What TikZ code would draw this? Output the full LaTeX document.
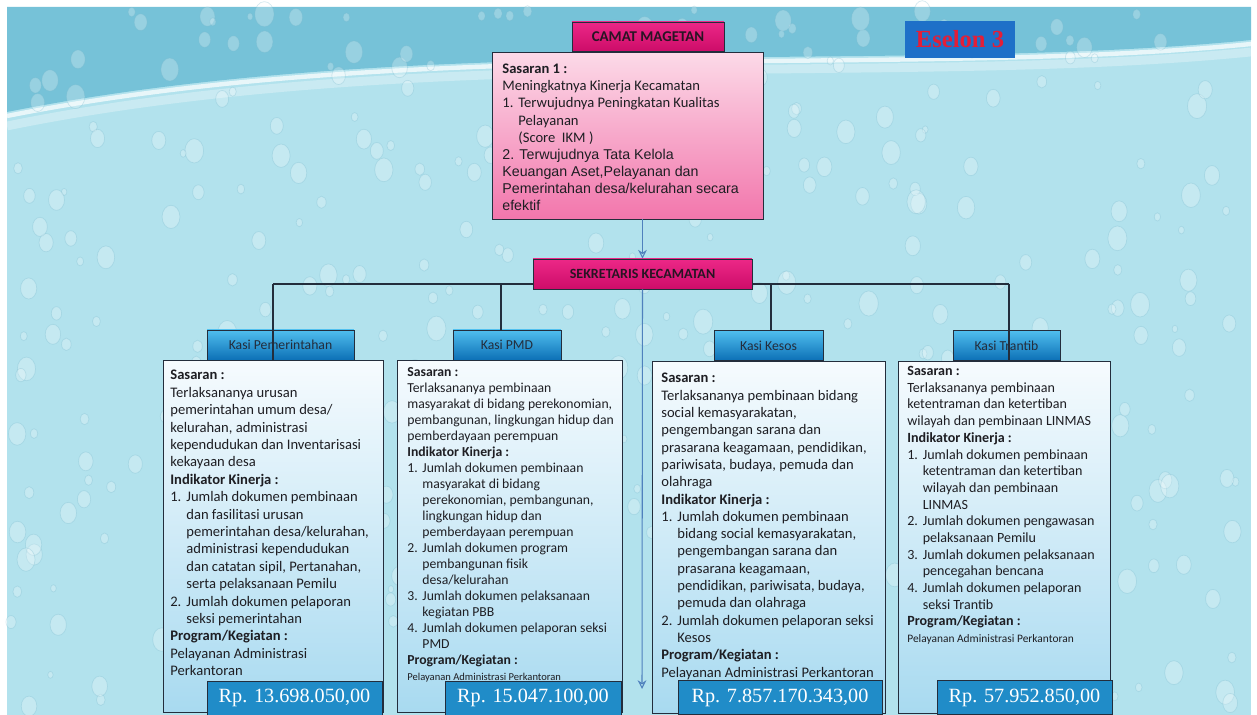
\documentclass[tikz,border=0pt]{standalone}
\usepackage{fontspec}
\setmainfont{Carlito}
\newfontfamily\arialfont{Liberation Sans}
\newfontfamily\serifrp{Liberation Serif}
\usetikzlibrary{arrows.meta}
\definecolor{latar}{RGB}{178,226,237}
\definecolor{latargelap}{RGB}{118,194,216}
\definecolor{tetes}{RGB}{120,185,205}
\definecolor{magatas}{RGB}{236,40,135}
\definecolor{magbawah}{RGB}{205,12,105}
\definecolor{pinkatas}{RGB}{252,218,232}
\definecolor{pinkbawah}{RGB}{242,118,172}
\definecolor{biruatas}{RGB}{80,190,238}
\definecolor{birubawah}{RGB}{12,112,182}
\definecolor{isiatas}{RGB}{246,251,254}
\definecolor{isibawah}{RGB}{168,218,240}
\definecolor{rpbiru}{RGB}{32,140,200}
\definecolor{eselonbiru}{RGB}{30,112,200}
\definecolor{eselonmerah}{RGB}{228,30,55}
\definecolor{garis}{RGB}{35,45,60}
\definecolor{panahbiru}{RGB}{79,129,189}
\definecolor{teksgelap}{RGB}{40,20,35}
\definecolor{teksisi}{RGB}{30,30,35}
\newcommand{\nomor}[1]{\makebox[1.1em][l]{#1}}
\newcommand{\lanjut}{\hspace*{1.1em}}
\begin{document}
\begin{tikzpicture}[x=0.02cm, y=-0.02cm]
\tikzstyle{jabatan}  = [rectangle, text centered, draw=garis, top color=magatas, bottom color=magbawah, text=teksgelap, font=\bfseries\fontsize{8}{9}\selectfont]
\tikzstyle{sasaranbox} = [rectangle, draw=garis, top color=pinkatas, bottom color=pinkbawah]
\tikzstyle{kasi}     = [rectangle, text centered, draw=garis, top color=biruatas, bottom color=birubawah, text=garis, font=\fontsize{7.8}{9}\selectfont, minimum height=0.6cm]
\tikzstyle{isi}      = [rectangle, draw=garis, top color=isiatas, bottom color=isibawah, minimum height=7.04cm]
\tikzstyle{anggaran} = [rectangle, text centered, draw=garis, fill=rpbiru, text=white, font=\serifrp\fontsize{11.5}{13}\selectfont, minimum height=0.68cm]
\tikzstyle{isian}    = [anchor=north west, align=left, inner sep=0pt, text=teksisi]
\tikzstyle{penghubung} = [draw=garis, line width=0.6pt]
\tikzstyle{panah}    = [draw=panahbiru, line width=0.6pt, -{Stealth[length=5pt,width=5pt,open]}]
% latar
\useasboundingbox (0,0) rectangle (1257,715);
\fill[white] (0,0) rectangle (1257,715);
\fill[latar] (7,7) rectangle (1251,715);
\fill[latargelap] (7,7) -- (1251,7) -- (1251,40) .. controls (900,75) and (420,30) .. (7,112) -- cycle;
\draw[white, line width=2.5pt, opacity=0.7] (1251,44) .. controls (900,79) and (420,34) .. (7,116);
\draw[white, line width=5pt, opacity=0.3] (1251,52) .. controls (900,87) and (420,42) .. (7,126);
\pgfmathsetseed{11}
\foreach \i in {1,...,420}{
  \pgfmathsetmacro{\dx}{10+rnd*1235}
  \pgfmathsetmacro{\dy}{10+rnd*700}
  \pgfmathsetmacro{\dr}{1.5+rnd*4}
  \fill[white, opacity=0.25] (\dx,\dy) ellipse [x radius=\dr pt, y radius=1.3*\dr pt];
  \draw[tetes, opacity=0.3, line width=0.4pt] (\dx,\dy) ellipse [x radius=\dr pt, y radius=1.3*\dr pt];
}
% garis bus
\coordinate (bus_0) at (273, 284);
\coordinate (bus_1) at (501, 284);
\coordinate (bus_2) at (771, 284);
\coordinate (bus_3) at (1009, 284);
\draw[penghubung] (bus_0) -- (bus_3);
% kotak atas
\node[jabatan, minimum width=3.04cm, minimum height=0.58cm, font=\bfseries\fontsize{8.5}{9}\selectfont] at (648, 36.5) (0_camat) {CAMAT MAGETAN};
\node[sasaranbox, minimum width=5.42cm, minimum height=3.34cm] at (627.5, 135.5) (1_sasaran) {};
\node[isian, font=\fontsize{8.3}{9.7}\selectfont] at (502, 64) (1_teks) {\textbf{Sasaran 1 :}\\
Meningkatnya Kinerja Kecamatan\\
\nomor{1.}Terwujudnya Peningkatan Kualitas\\
\lanjut Pelayanan\\
\lanjut (Score \ IKM )\\
{\arialfont\fontsize{8.1}{9.7}\selectfont 2. Terwujudnya Tata Kelola}\\
{\arialfont\fontsize{8.1}{9.7}\selectfont Keuangan Aset,Pelayanan dan}\\
{\arialfont\fontsize{8.1}{9.7}\selectfont Pemerintahan desa/kelurahan secara}\\
{\arialfont\fontsize{8.1}{9.7}\selectfont efektif}};
\node[rectangle, fill=eselonbiru, minimum width=2.2cm, minimum height=0.74cm, text=eselonmerah, font=\serifrp\bfseries\fontsize{14}{16}\selectfont] at (960, 39.5) (0_eselon) {Eselon 3};
\node[jabatan, minimum width=4.38cm, minimum height=0.6cm] at (642.5, 274) (1_sek) {SEKRETARIS KECAMATAN};
\draw[panah] (1_sek.north |- 1_sasaran.south) -- (1_sek.north);
\coordinate (ujung) at (642, 689);
\draw[panah] (1_sek.south) -- (ujung);
% kasi
\node[kasi, minimum width=2.94cm] at (280.5, 345) (2_kasi_0) {Kasi Pemerintahan};
\node[kasi, minimum width=2.16cm] at (507, 345) (2_kasi_1) {Kasi PMD};
\node[kasi, minimum width=2.18cm] at (768.5, 345.5) (2_kasi_2) {Kasi Kesos};
\node[kasi, minimum width=2.14cm] at (1006.5, 345.5) (2_kasi_3) {Kasi Trantib};
% isi
\node[isi, minimum width=4.40cm] at (273, 536) (3_isi_0) {};
\node[isi, minimum width=4.50cm] at (509.5, 536.5) (3_isi_1) {};
\node[isi, minimum width=4.66cm] at (768.5, 537) (3_isi_2) {};
\node[isi, minimum width=4.24cm] at (1004, 537) (3_isi_3) {};
\draw[penghubung] (bus_0) -- (bus_0 |- 3_isi_0.north);
\draw[penghubung] (bus_1) -- (bus_1 |- 2_kasi_1.north);
\draw[penghubung] (bus_2) -- (bus_2 |- 2_kasi_2.north);
\draw[penghubung] (bus_3) -- (bus_3 |- 3_isi_3.north);
\node[isian, font=\fontsize{8.3}{9.9}\selectfont] at (170, 370) (3_teks_0) {\textbf{Sasaran :}\\
Terlaksananya urusan\\
pemerintahan umum desa/\\
kelurahan, administrasi\\
kependudukan dan Inventarisasi\\
kekayaan desa\\
\textbf{Indikator Kinerja :}\\
\nomor{1.}Jumlah dokumen pembinaan\\
\lanjut dan fasilitasi urusan\\
\lanjut pemerintahan desa/kelurahan,\\
\lanjut administrasi kependudukan\\
\lanjut dan catatan sipil, Pertanahan,\\
\lanjut serta pelaksanaan Pemilu\\
\nomor{2.}Jumlah dokumen pelaporan\\
\lanjut seksi pemerintahan\\
\textbf{Program/Kegiatan :}\\
Pelayanan Administrasi\\
Perkantoran};
\node[isian, font=\fontsize{7.8}{9.1}\selectfont] at (407, 367) (3_teks_1) {\textbf{Sasaran :}\\
Terlaksananya pembinaan\\
masyarakat di bidang perekonomian,\\
pembangunan, lingkungan hidup dan\\
pemberdayaan perempuan\\
\textbf{Indikator Kinerja :}\\
\nomor{1.}Jumlah dokumen pembinaan\\
\lanjut masyarakat di bidang\\
\lanjut perekonomian, pembangunan,\\
\lanjut lingkungan hidup dan\\
\lanjut pemberdayaan perempuan\\
\nomor{2.}Jumlah dokumen program\\
\lanjut pembangunan fisik\\
\lanjut desa/kelurahan\\
\nomor{3.}Jumlah dokumen pelaksanaan\\
\lanjut kegiatan PBB\\
\nomor{4.}Jumlah dokumen pelaporan seksi\\
\lanjut PMD\\
\textbf{Program/Kegiatan :}\\
{\fontsize{6}{7.6}\selectfont Pelayanan Administrasi Perkantoran}};
\node[isian, font=\fontsize{8.3}{9.85}\selectfont] at (661, 373) (3_teks_2) {\textbf{Sasaran :}\\
Terlaksananya pembinaan bidang\\
social kemasyarakatan,\\
pengembangan sarana dan\\
prasarana keagamaan, pendidikan,\\
pariwisata, budaya, pemuda dan\\
olahraga\\
\textbf{Indikator Kinerja :}\\
\nomor{1.}Jumlah dokumen pembinaan\\
\lanjut bidang social kemasyarakatan,\\
\lanjut pengembangan sarana dan\\
\lanjut prasarana keagamaan,\\
\lanjut pendidikan, pariwisata, budaya,\\
\lanjut pemuda dan olahraga\\
\nomor{2.}Jumlah dokumen pelaporan seksi\\
\lanjut Kesos\\
\textbf{Program/Kegiatan :}\\
Pelayanan Administrasi Perkantoran};
\node[isian, font=\fontsize{8}{9.5}\selectfont] at (907, 366) (3_teks_3) {\textbf{Sasaran :}\\
Terlaksananya pembinaan\\
ketentraman dan ketertiban\\
wilayah dan pembinaan LINMAS\\
\textbf{Indikator Kinerja :}\\
\nomor{1.}Jumlah dokumen pembinaan\\
\lanjut ketentraman dan ketertiban\\
\lanjut wilayah dan pembinaan\\
\lanjut LINMAS\\
\nomor{2.}Jumlah dokumen pengawasan\\
\lanjut pelaksanaan Pemilu\\
\nomor{3.}Jumlah dokumen pelaksanaan\\
\lanjut pencegahan bencana\\
\nomor{4.}Jumlah dokumen pelaporan\\
\lanjut seksi Trantib\\
\textbf{Program/Kegiatan :}\\
{\fontsize{6.5}{8}\selectfont Pelayanan Administrasi Perkantoran}};
% anggaran
\node[anggaran, minimum width=3.50cm] at (294.5, 698) (3_rp_0) {Rp. 13.698.050,00};
\node[anggaran, minimum width=3.52cm] at (533, 698) (3_rp_1) {Rp. 15.047.100,00};
\node[anggaran, minimum width=4.08cm] at (780, 697.5) (3_rp_2) {Rp. 7.857.170.343,00};
\node[anggaran, minimum width=3.50cm] at (1024.5, 697.5) (3_rp_3) {Rp. 57.952.850,00};
\end{tikzpicture}
\end{document}
